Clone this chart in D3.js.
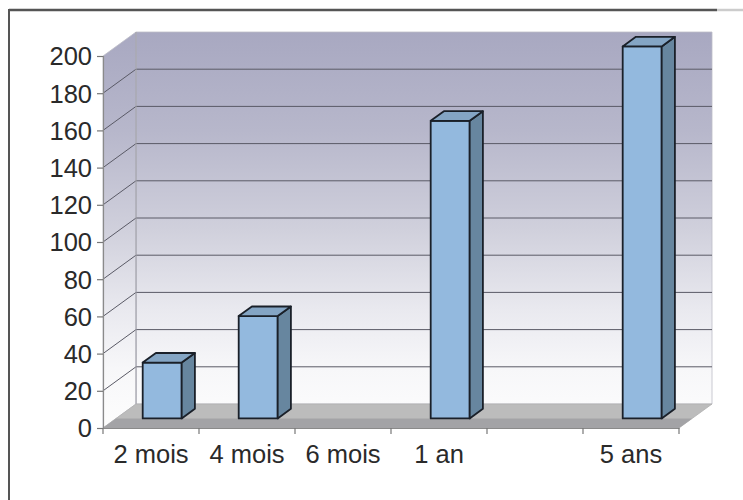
<!DOCTYPE html>
<html>
<head>
<meta charset="utf-8">
<script src="https://cdn.jsdelivr.net/npm/d3@7"></script>
<style>
  html, body { margin: 0; padding: 0; background: #fff; }
  svg { display: block; }
  text { font-family: "Liberation Sans", Arial, sans-serif; }
</style>
</head>
<body>
<svg id="chart" width="743" height="500"></svg>
<script>
// ---- data ----
const categories = ["2 mois", "4 mois", "6 mois", "1 an", "", "5 ans"];
const values = [30, 55, 0, 160, 0, 200];
const yTicks = [0, 20, 40, 60, 80, 100, 120, 140, 160, 180, 200];

// ---- layout ----
const svg = d3.select("#chart");
const plotLeft = 103, plotRight = 679;
const yZero = 428, yTop = 56;
const depth = { dx: 33, dy: -24 };
const fontSize = 25.5;

const x = d3.scaleBand().domain(d3.range(categories.length)).range([plotLeft, plotRight]).padding(0);
const y = d3.scaleLinear().domain([0, 200]).range([yZero, yTop]);

// oblique projection
const P = (px, v, z) => [px + z * depth.dx, y(v) + z * depth.dy];
const poly = pts => pts.map(p => p.join(",")).join(" ");

// ---- defs ----
const defs = svg.append("defs");
const wallGrad = defs.append("linearGradient")
  .attr("id", "wallGrad").attr("gradientUnits", "userSpaceOnUse")
  .attr("x1", 0).attr("x2", 0).attr("y1", y(200) + depth.dy).attr("y2", y(0));
[[0, "#a8a8c1"], [0.25, "#b7b7cb"], [0.5, "#d0d0dc"], [0.7, "#e9e9ef"], [0.85, "#f7f7f9"], [1, "#fdfdfd"]]
  .forEach(([o, c]) => wallGrad.append("stop").attr("offset", o).attr("stop-color", c));

// ---- frame ----
svg.append("line").attr("x1", 9).attr("x2", 717).attr("y1", 10).attr("y2", 10)
  .attr("stroke", "#555").attr("stroke-width", 2.5);
svg.append("line").attr("x1", 717).attr("x2", 743).attr("y1", 10).attr("y2", 10)
  .attr("stroke", "#ccc").attr("stroke-width", 2.5);
svg.append("line").attr("x1", 9).attr("x2", 9).attr("y1", 9).attr("y2", 500)
  .attr("stroke", "#555").attr("stroke-width", 2);

// ---- walls ----
const g = svg.append("g");
g.append("polygon")
  .attr("points", poly([P(plotLeft, 0, 1), P(plotRight, 0, 1), P(plotRight, 200, 1), P(plotLeft, 200, 1)]))
  .attr("fill", "url(#wallGrad)").attr("stroke", "#bcbcc6").attr("stroke-width", 0.8);
g.append("polygon")
  .attr("points", poly([P(plotLeft, 0, 0), P(plotLeft, 0, 1), P(plotLeft, 200, 1), P(plotLeft, 200, 0)]))
  .attr("fill", "url(#wallGrad)").attr("stroke", "#bcbcc6").attr("stroke-width", 0.8);

// gridlines
const gridVals = yTicks.filter(v => v > 0 && v < 200);
g.selectAll("line.gridBack").data(gridVals).join("line")
  .attr("class", "gridBack")
  .attr("x1", v => P(plotLeft, v, 1)[0]).attr("y1", v => P(plotLeft, v, 1)[1])
  .attr("x2", v => P(plotRight, v, 1)[0]).attr("y2", v => P(plotRight, v, 1)[1])
  .attr("stroke", "#5a5a66").attr("stroke-width", 1);
g.selectAll("line.gridSide").data(gridVals).join("line")
  .attr("class", "gridSide")
  .attr("x1", v => P(plotLeft, v, 0)[0]).attr("y1", v => P(plotLeft, v, 0)[1])
  .attr("x2", v => P(plotLeft, v, 1)[0]).attr("y2", v => P(plotLeft, v, 1)[1])
  .attr("stroke", "#5a5a66").attr("stroke-width", 1);
g.append("line")
  .attr("x1", P(plotLeft, 0, 1)[0]).attr("y1", P(plotLeft, 0, 1)[1])
  .attr("x2", P(plotLeft, 200, 1)[0]).attr("y2", P(plotLeft, 200, 1)[1])
  .attr("stroke", "#a0a0a8").attr("stroke-width", 1);

// ---- floor ----
g.append("polygon")
  .attr("points", poly([P(plotLeft, 0, 0), P(plotRight, 0, 0), P(plotRight, 0, 1), P(plotLeft, 0, 1)]))
  .attr("fill", "#bcbcbc").attr("stroke", "#b0b0b0").attr("stroke-width", 0.8);
g.append("polygon")
  .attr("points", poly([P(plotLeft, 0, 0), P(plotRight, 0, 0), P(plotRight, 0, 0.4), P(plotLeft, 0, 0.4)]))
  .attr("fill", "#a3a3a6");

// ---- bars ----
const z0 = 0.4, z1 = 0.8;
const barHalfL = 21.5, barHalfR = 17.5;
const barData = values.map((v, i) => ({ v, i })).filter(d => d.v > 0);
const bars = g.selectAll("g.bar").data(barData).join("g").attr("class", "bar");
const cx = d => x(d.i) + x.bandwidth() / 2;
const barStroke = { stroke: "#1a2029", width: 1.8 };
bars.append("polygon") // front
  .attr("points", d => {
    const l = cx(d) - barHalfL, r = cx(d) + barHalfR;
    return poly([P(l, 0, z0), P(r, 0, z0), P(r, d.v, z0), P(l, d.v, z0)]);
  })
  .attr("fill", "#93b9de");
bars.append("polygon") // side
  .attr("points", d => {
    const r = cx(d) + barHalfR;
    return poly([P(r, 0, z0), P(r, 0, z1), P(r, d.v, z1), P(r, d.v, z0)]);
  })
  .attr("fill", "#67869f");
bars.append("polygon") // top
  .attr("points", d => {
    const l = cx(d) - barHalfL, r = cx(d) + barHalfR;
    return poly([P(l, d.v, z0), P(r, d.v, z0), P(r, d.v, z1), P(l, d.v, z1)]);
  })
  .attr("fill", "#84a5c4");
bars.selectAll("polygon").attr("stroke", barStroke.stroke)
  .attr("stroke-width", barStroke.width).attr("stroke-linejoin", "round");

// ---- axes ----
const yAxis = d3.axisLeft(y).tickValues(yTicks).tickSize(6).tickPadding(5);
const yG = svg.append("g").attr("transform", `translate(${plotLeft},0)`).call(yAxis);
yG.select(".domain").attr("stroke", "#8a8a8a").attr("stroke-width", 1.2);
yG.selectAll(".tick line").attr("stroke", "#777").attr("stroke-width", 1.2);
yG.selectAll(".tick text").attr("font-size", fontSize).attr("fill", "#2a2a2a")
  .attr("font-family", "'Liberation Sans', Arial, sans-serif").attr("dy", "0.35em");

const xAxis = d3.axisBottom(x).tickFormat(i => categories[i]).tickSize(0).tickPadding(35);
const xG = svg.append("g").attr("transform", `translate(0,${yZero})`).call(xAxis);
xG.select(".domain").attr("stroke", "#8a8a8a").attr("stroke-width", 1.2);
xG.selectAll(".tick text").attr("font-size", fontSize).attr("fill", "#2a2a2a")
  .attr("font-family", "'Liberation Sans', Arial, sans-serif").attr("dy", "0");
xG.selectAll("line.bound").data(d3.range(categories.length + 1)).join("line")
  .attr("class", "bound")
  .attr("x1", i => plotLeft + i * x.bandwidth()).attr("x2", i => plotLeft + i * x.bandwidth())
  .attr("y1", 0).attr("y2", 6).attr("stroke", "#777").attr("stroke-width", 1.2);
</script>
</body>
</html>
